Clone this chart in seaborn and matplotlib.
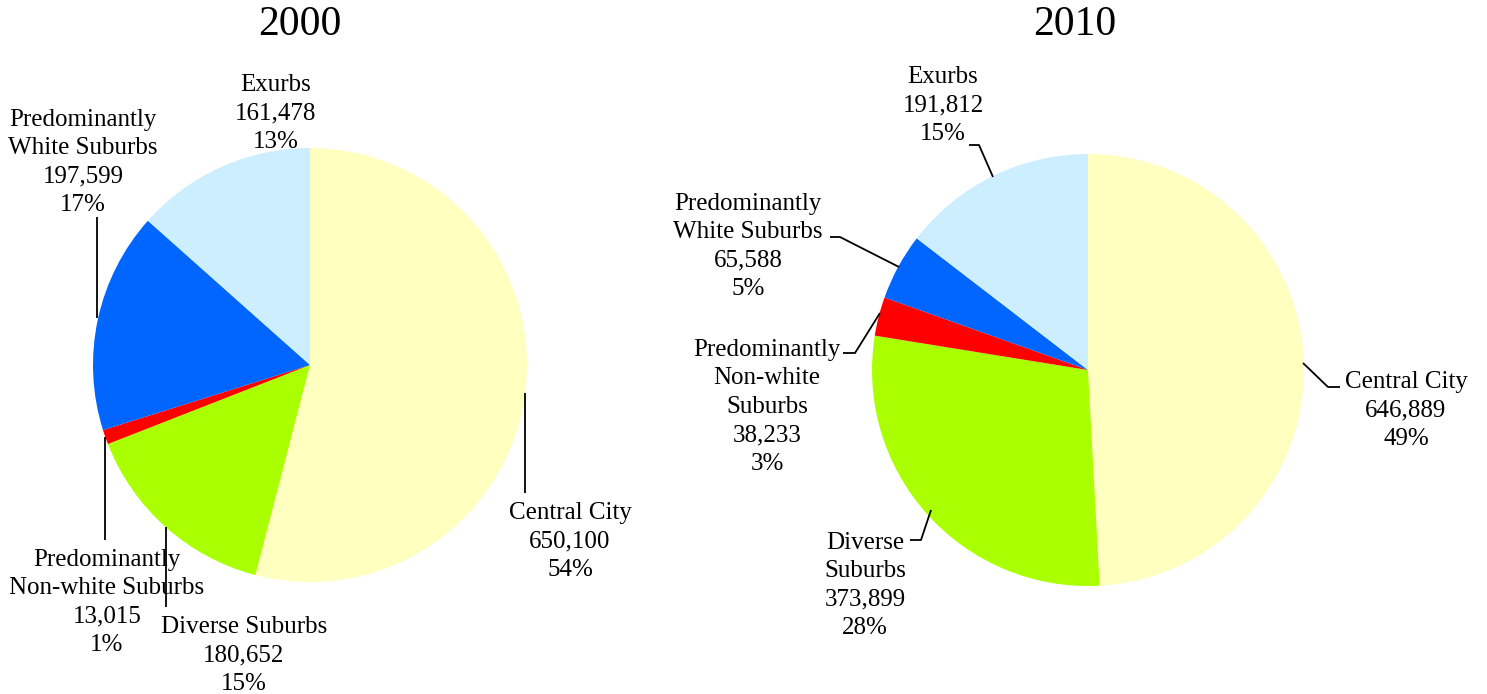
import matplotlib
matplotlib.use("Agg")
import matplotlib.pyplot as plt
import seaborn as sns

sns.set_theme(style="white")
plt.rcParams["font.family"] = ["Liberation Serif", "DejaVu Serif"]

# data
categories = ["Central City", "Diverse Suburbs", "Predominantly Non-white Suburbs",
              "Predominantly White Suburbs", "Exurbs"]
values_2000 = [650100, 180652, 13015, 197599, 161478]
pcts_2000 = [54, 15, 1, 17, 13]
values_2010 = [646889, 373899, 38233, 65588, 191812]
pcts_2010 = [49, 28, 3, 5, 15]
names_2000 = ["Central City", "Diverse Suburbs", "Predominantly\nNon-white Suburbs",
              "Predominantly\nWhite Suburbs", "Exurbs"]
names_2010 = ["Central City", "Diverse\nSuburbs", "Predominantly\nNon-white\nSuburbs",
              "Predominantly\nWhite Suburbs", "Exurbs"]
colors = ["#FFFFC0", "#AAFF00", "#FF0000", "#0066FF", "#CCEEFF"]

W, H = 1487, 694
LINE = 28.5  # pixel gap between label lines

fig = plt.figure(figsize=(W / 100, H / 100), dpi=100)
ax = fig.add_axes([0, 0, 1, 1])


def fy(y):
    # pixel row (from top) -> data y
    return H - y


def draw_pie(values, pcts, names, cx, cy, r, title, tx, label_pos, leaders):
    ax.pie(values, colors=colors, startangle=90, counterclock=False,
           center=(cx, fy(cy)), radius=r, frame=True,
           wedgeprops=dict(linewidth=0))
    ax.text(tx, fy(25), title, ha="center", va="center", fontsize=30, color="black")
    for name, v, p, (lx, ly) in zip(names, values, pcts, label_pos):
        lines = name.split("\n") + [f"{v:,}", f"{p}%"]
        n = len(lines)
        for i, s in enumerate(lines):
            yy = ly + (i - (n - 1) / 2) * LINE
            ax.text(lx, fy(yy), s, ha="center", va="center_baseline",
                    fontsize=18, color="black")
    for pts in leaders:
        xs = [p[0] for p in pts]
        ys = [fy(p[1]) for p in pts]
        ax.plot(xs, ys, color="black", lw=1.3, solid_capstyle="butt")


draw_pie(values_2000, pcts_2000, names_2000, 310, 365, 217, "2000", 300,
         [(570, 539), (244, 653), (107, 600), (83, 160), (276, 111)],
         [[(97, 217), (97, 318)],
          [(105, 437), (105, 540)],
          [(166, 527), (166, 607)],
          [(525, 393), (525, 493)]])

draw_pie(values_2010, pcts_2010, names_2010, 1088, 370, 216, "2010", 1075,
         [(1406, 408), (865, 583), (767, 404), (748, 244), (943, 103)],
         [[(969, 145), (979, 145), (993, 177)],
          [(830, 237), (840, 237), (899, 267)],
          [(843, 353), (855, 353), (880, 313)],
          [(910, 540), (921, 540), (931, 510)],
          [(1340, 387), (1328, 387), (1303, 363)]])

ax.set_xlim(0, W)
ax.set_ylim(0, H)
ax.set_aspect("auto")
ax.axis("off")

fig.savefig("out.png", dpi=100, facecolor="white")
